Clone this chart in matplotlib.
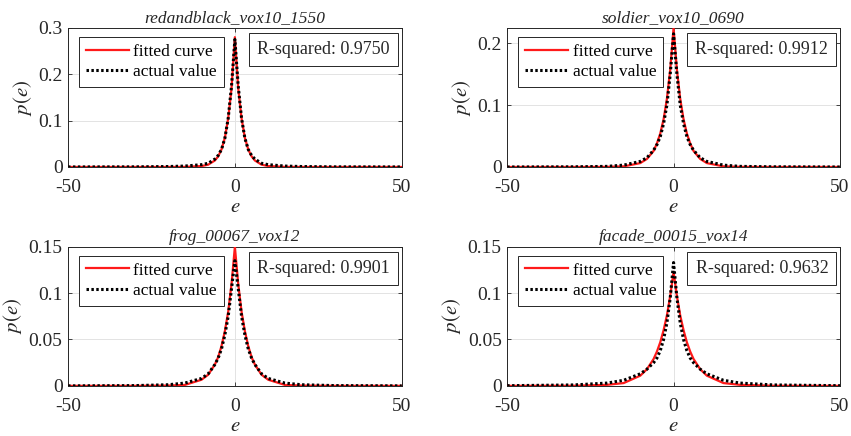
"""
Laplacian fit of prediction residuals p(e) for four point clouds, 2x2 panels.
"""

import numpy as np
import matplotlib
matplotlib.use('Agg')
import matplotlib.pyplot as plt
from matplotlib import rcParams

rcParams['font.family'] = 'serif'
rcParams['font.serif'] = ['Liberation Serif', 'DejaVu Serif']
rcParams['mathtext.fontset'] = 'stix'
rcParams['axes.linewidth'] = 0.8

# sample positions of the residual e (both curves are read at these points)
E = [-50, -30, -20, -15, -10, -8, -6, -5, -4, -3, -2, -1, 0,
     1, 2, 3, 4, 5, 6, 8, 10, 15, 20, 30, 50]

TITLES = ['redandblack_vox10_1550', 'soldier_vox10_0690',
          'frog_00067_vox12', 'facade_00015_vox14']
R_SQUARED = ['0.9750', '0.9912', '0.9901', '0.9632']

FIT_REDANDBLACK = [0, 0, 0, 0.0002, 0.002, 0.005, 0.014, 0.023, 0.038, 0.063, 0.105, 0.170, 0.280,
                   0.170, 0.105, 0.063, 0.038, 0.023, 0.014, 0.005, 0.002, 0.0002, 0, 0, 0]
ACT_REDANDBLACK = [0.0001, 0.0003, 0.001, 0.002, 0.005, 0.008, 0.017, 0.025, 0.038, 0.062, 0.105, 0.175, 0.275,
                   0.175, 0.105, 0.062, 0.038, 0.025, 0.017, 0.008, 0.005, 0.002, 0.001, 0.0003, 0.0001]

FIT_SOLDIER = [0, 0, 0.0002, 0.001, 0.0063, 0.013, 0.026, 0.038, 0.054, 0.077, 0.110, 0.157, 0.2245,
               0.157, 0.110, 0.077, 0.054, 0.038, 0.026, 0.013, 0.0063, 0.001, 0.0002, 0, 0]
ACT_SOLDIER = [0, 0.0003, 0.001, 0.003, 0.009, 0.015, 0.027, 0.036, 0.049, 0.070, 0.100, 0.150, 0.215,
               0.150, 0.100, 0.070, 0.049, 0.036, 0.027, 0.015, 0.009, 0.003, 0.001, 0.0003, 0]

FIT_FROG = [0, 0, 0.0003, 0.001, 0.0066, 0.012, 0.023, 0.031, 0.043, 0.059, 0.080, 0.110, 0.150,
            0.110, 0.080, 0.059, 0.043, 0.031, 0.023, 0.012, 0.0066, 0.001, 0.0003, 0, 0]
ACT_FROG = [0, 0.0003, 0.0012, 0.003, 0.008, 0.013, 0.023, 0.030, 0.040, 0.055, 0.075, 0.105, 0.135,
            0.105, 0.075, 0.055, 0.040, 0.030, 0.023, 0.013, 0.008, 0.003, 0.0012, 0.0003, 0]

FIT_FACADE = [0, 0.0001, 0.0011, 0.003, 0.011, 0.018, 0.029, 0.037, 0.047, 0.060, 0.076, 0.097, 0.123,
              0.097, 0.076, 0.060, 0.047, 0.037, 0.029, 0.018, 0.011, 0.003, 0.0011, 0.0001, 0]
ACT_FACADE = [0.0002, 0.001, 0.003, 0.006, 0.013, 0.018, 0.025, 0.030, 0.038, 0.050, 0.068, 0.095, 0.133,
              0.095, 0.068, 0.050, 0.038, 0.030, 0.025, 0.018, 0.013, 0.006, 0.003, 0.001, 0.0002]

FITS = [FIT_REDANDBLACK, FIT_SOLDIER, FIT_FROG, FIT_FACADE]
ACTUALS = [ACT_REDANDBLACK, ACT_SOLDIER, ACT_FROG, ACT_FACADE]

YTICKS = [[0, 0.1, 0.2, 0.3], [0, 0.1, 0.2], [0, 0.05, 0.1, 0.15], [0, 0.05, 0.1, 0.15]]
YTICKLABELS = [['0', '0.1', '0.2', '0.3'], ['0', '0.1', '0.2'],
               ['0', '0.05', '0.1', '0.15'], ['0', '0.05', '0.1', '0.15']]
YMAX = [0.3, 0.2245, 0.15, 0.15]
XTICKS = [-50, 0, 50]
XTICKLABELS = ['-50', '0', '50']

COLOR_FIT = '#ff1a1a'
COLOR_ACT = '#000000'
COLOR_AX = '#262626'

# axes rectangles in figure fractions (MATLAB-like layout)
POSITIONS = [[0.080, 0.617, 0.392, 0.319], [0.596, 0.617, 0.391, 0.319],
             [0.080, 0.115, 0.392, 0.319], [0.596, 0.115, 0.391, 0.319]]


def draw_panel(ax, i):
    ax.plot(E, FITS[i], color=COLOR_FIT, linewidth=1.6, label='fitted curve', zorder=3)
    ax.plot(E, ACTUALS[i], color=COLOR_ACT, linewidth=2.2, linestyle=(0, (0.8, 0.8)),
            label='actual value', zorder=4)

    ax.set_xlim(-50, 50)
    ax.set_ylim(0, YMAX[i])
    ax.set_xticks(XTICKS)
    ax.set_xticklabels(XTICKLABELS)
    ax.set_yticks(YTICKS[i])
    ax.set_yticklabels(YTICKLABELS[i])
    ax.tick_params(direction='in', length=3, width=0.6, top=True, right=True,
                   labelsize=14, colors=COLOR_AX)
    ax.tick_params(axis='x', pad=9)
    ax.tick_params(axis='y', pad=4)
    for sp in ax.spines.values():
        sp.set_color(COLOR_AX)
        sp.set_linewidth(0.7)
    ax.grid(True, color='#e3e3e3', linewidth=0.7, zorder=0)
    ax.set_axisbelow(True)

    ax.set_title(TITLES[i], fontstyle='italic', fontsize=12.5, pad=4, color=COLOR_AX)
    ax.set_xlabel('$e$', fontsize=15, color=COLOR_AX, labelpad=1)
    ax.set_ylabel('$p(e)$', fontsize=15, color=COLOR_AX, labelpad=3)

    leg = ax.legend(loc='upper left', bbox_to_anchor=(0.033, 0.935), fontsize=12.5,
                    handlelength=2.5, handletextpad=0.25, borderpad=0.38,
                    borderaxespad=0, labelspacing=0.25, fancybox=False,
                    framealpha=1, edgecolor=COLOR_AX)
    leg.get_frame().set_linewidth(0.7)

    ax.text(0.965, 0.905, 'R-squared: ' + R_SQUARED[i], transform=ax.transAxes,
            ha='right', va='top', fontsize=13, color=COLOR_AX,
            bbox=dict(boxstyle='square,pad=0.45', facecolor='white',
                      edgecolor=COLOR_AX, linewidth=0.7))


def main():
    fig = plt.figure(figsize=(8.51, 4.36), dpi=100)
    for i, pos in enumerate(POSITIONS):
        ax = fig.add_axes(pos)
        draw_panel(ax, i)
    fig.savefig('out.png', dpi=100)


if __name__ == '__main__':
    main()
